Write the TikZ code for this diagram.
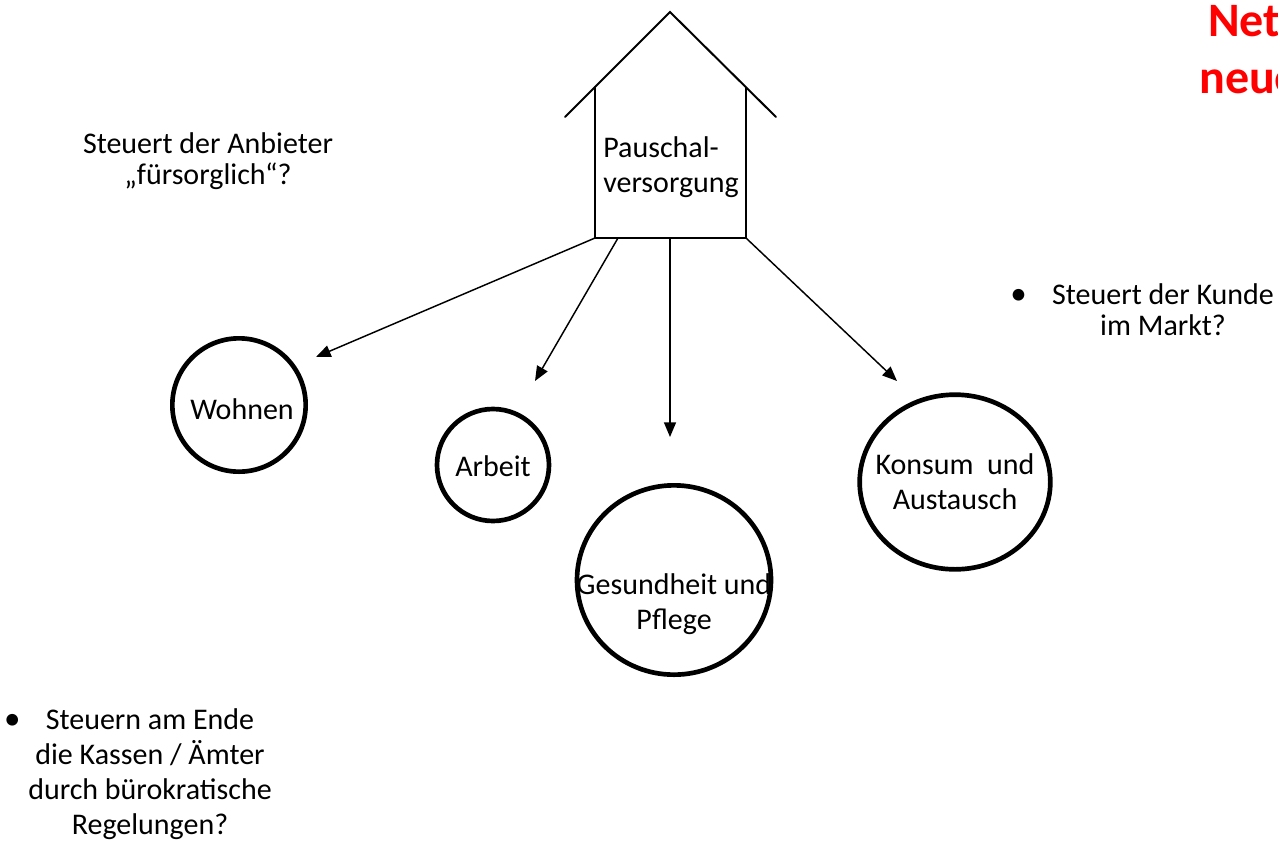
\documentclass[tikz,border=0pt]{standalone}
\usepackage{fontspec}
\setmainfont{Carlito}
\usetikzlibrary{arrows.meta,shapes.geometric}
\definecolor{titlered}{RGB}{255,0,0}
\newcommand{\bul}[1]{\llap{\scalebox{1.1}{•}\hspace{#1}}}
\begin{document}
\begin{tikzpicture}[x=0.75pt,y=-0.75pt,
  housel/.style={line width=1.5pt,line cap=round},
  ring/.style={draw,line width=3.5pt,ellipse,inner sep=0pt},
  conn/.style={line width=1.1pt,-{Triangle[length=11pt,width=9pt]}},
  lbl/.style={font=\fontsize{22.5}{23.5}\selectfont,align=center,inner sep=0pt},
  clbl/.style={font=\fontsize{22.5}{26.3}\selectfont,align=center,inner sep=0pt},
  ttl/.style={font=\fontsize{36}{43}\selectfont\bfseries,text=titlered,inner sep=0pt,anchor=base west},
]
\useasboundingbox (0,0) rectangle (1278,840);
\begin{scope}
\clip (0,0) rectangle (1278,840);
% title (cut off at the right edge, as in the reference)
\node[ttl] (t1) at (1208,36) {Net};
\node[ttl] (t2) at (1199,93) {neue};
% house
\coordinate (apex) at (670,12);
\coordinate (roofL) at (565,117);
\coordinate (roofR) at (776,117);
\coordinate (wallLt) at (595,87);
\coordinate (wallRt) at (746,88);
\coordinate (bl) at (595,238);
\coordinate (br) at (746,238);
\coordinate (b2) at (618,238);
\coordinate (b3) at (670,238);
\draw[housel] (roofL) -- (apex) -- (roofR);
\draw[housel] (wallLt) -- (bl) -- (br) -- (wallRt);
\node[lbl,font=\fontsize{22.5}{26.3}\selectfont,align=left,anchor=west] (house) at (603,167) {Pauschal-\\versorgung};
% circles
\node[ring,minimum width=100pt,minimum height=100pt] (wohnen) at (239,405) {};
\node[ring,minimum width=84pt,minimum height=84pt] (arbeit) at (493,465) {};
\node[ring,minimum width=145.5pt,minimum height=142pt] (gesund) at (674,580) {};
\node[ring,minimum width=143pt,minimum height=131pt] (konsum) at (955,482) {};
\node[clbl] (wohnen-t) at (242,409) {Wohnen};
\node[clbl] (arbeit-t) at (493,466) {Arbeit};
\node[clbl] (gesund-t) at (674,604) {Gesundheit und\\Pflege};
\node[clbl] (konsum-t) at (955,482) {Konsum\ \ und\\Austausch};
% arrow tips
\coordinate (tw) at (316,357);
\coordinate (ta) at (535,381);
\coordinate (tg) at (670,437);
\coordinate (tk) at (897,381);
\draw[conn] (bl) -- (tw);
\draw[conn] (b2) -- (ta);
\draw[conn] (b3) -- (tg);
\draw[conn] (br) -- (tk);
% side texts
\node[lbl] (anbieter) at (208,161) {Steuert der Anbieter\\„fürsorglich“?};
\node[lbl] (kunde) at (1163,310) {\bul{19pt}Steuert der Kunde\\im Markt?};
\node[clbl] (kassen) at (150,774) {\bul{19pt}Steuern am Ende\\die Kassen / Ämter\\durch bürokratische\\Regelungen?};
\end{scope}
\end{tikzpicture}
\end{document}
